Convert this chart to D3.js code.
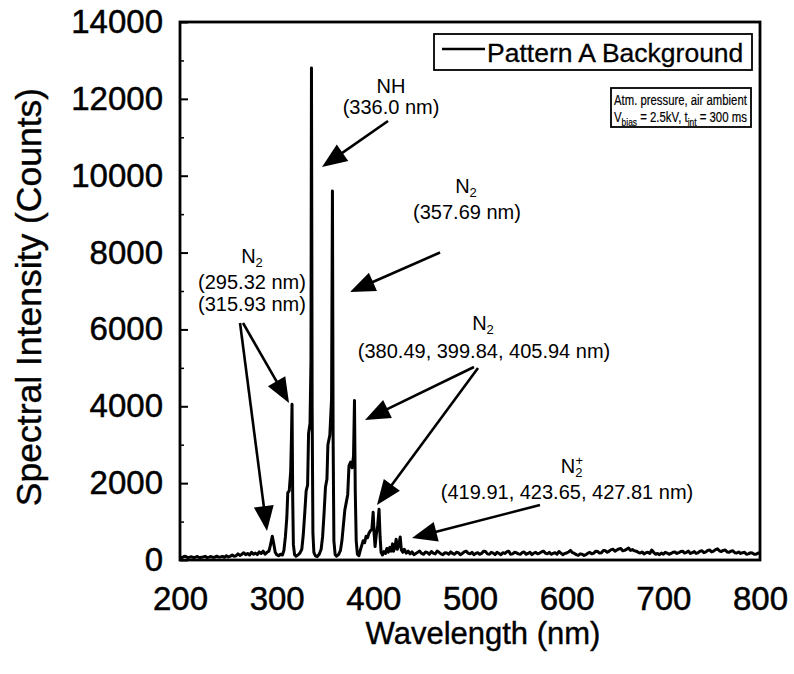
<!DOCTYPE html>
<html>
<head>
<meta charset="utf-8">
<script src="https://cdn.jsdelivr.net/npm/d3@7/dist/d3.min.js"></script>
<style>
  html, body { margin: 0; padding: 0; background: #fff; }
  svg { display: block; font-family: "Liberation Sans", Arial, Helvetica, sans-serif; }
</style>
</head>
<body>
<svg id="chart" width="794" height="674"></svg>
<script>
// ---------------- data ----------------
const xTicks = [200, 300, 400, 500, 600, 700, 800];
const yTicks = [0, 2000, 4000, 6000, 8000, 10000, 12000, 14000];
const yMinorTicks = [1000, 3000, 5000, 7000, 9000, 11000, 13000];
const seriesName = "Pattern A Background";

// spectrum: [wavelength (nm), intensity (counts)]
const spectrum = [
  [200,80],[202,60],[204,90],[206,95],[208,55],[210,75],[212,85],[214,60],[216,75],[218,90],[220,60],[222,70],[224,80],[226,95],
  [228,65],[230,75],[232,90],[234,70],[236,70],[238,100],[240,75],[242,80],[244,95],[246,70],[248,110],[250,80],[252,95],[254,130],
  [256,95],[258,110],[260,160],[262,120],[264,150],[266,190],[268,140],[270,170],[272,130],[274,200],[276,150],[278,180],
  [280,140],[282,210],[284,170],[286,230],[288,150],[290,200],[292,230],[293.5,380],[295.5,620],[297,420],
  [298.5,200],[300,140],[302,110],[304,150],[306,130],[307.5,250],[309,600],[310.5,1100],[311.5,1750],[313,1800],
  [314.5,2300],[315.3,3200],[315.9,4050],[316.6,1600],[317.3,400],[318.5,140],[320,100],[322,130],[324,180],[326,280],
  [327.5,650],[329,1200],[330.5,1800],[332,1950],[333,3300],[334.5,3550],[335.5,5200],[336,12800],[336.7,4000],[337.5,700],
  [338.5,200],[340,110],[342,90],[344,150],[346,280],[347.5,600],[349,1200],[350.5,1900],[352,2100],[353,3000],
  [355,3250],[356.8,4200],[357.7,9600],[358.4,3200],[359.2,500],[360.5,140],[362,100],[364,140],[366,250],[367.5,500],
  [369,900],[370.5,1300],[372,1500],[373.5,1700],[374.8,2450],[376.5,2550],[378,2400],[379.5,2700],[380.5,4150],[381.3,1800],
  [382.3,500],[383.5,150],[385,110],[386.5,250],[388,380],[389.5,500],[391,450],[392.5,620],[394,580],[395.5,700],
  [397,760],[398.5,800],[399.8,1240],[400.8,700],[401.8,350],[403,650],[404.5,900],[405.9,1320],[407,600],[408,200],
  [409.5,130],[411,220],[412.5,170],[414,300],[415.5,200],[417,330],[418.5,230],[419.9,420],[421,230],[422.5,350],
  [423.6,540],[424.8,280],[426.2,380],[427.8,600],[429,260],[430.5,200],[432,280],[434,180],[436,230],[438,160],
  [440,210],[442,140],[444,170],[446,200],[448,230],[450,170],[452,150],[454,210],[456,190],[458,150],[460,220],[462,180],
  [464,160],[466,230],[468,200],[470,160],[472,140],[474,190],[476,180],[478,150],[480,210],[482,170],[484,150],[486,200],
  [488,190],[490,140],[492,170],[494,210],[496,230],[498,180],[500,160],[502,200],[504,140],[506,170],[508,190],[510,150],
  [512,170],[514,230],[516,220],[518,160],[520,150],[522,200],[524,180],[526,140],[528,200],[530,170],[532,140],[534,190],
  [536,170],[538,210],[540,230],[542,150],[544,160],[546,200],[548,190],[550,160],[552,150],[554,190],[556,210],[558,150],
  [560,170],[562,200],[564,140],[566,180],[568,200],[570,160],[572,180],[574,210],[576,230],[578,180],[580,160],[582,200],
  [584,150],[586,170],[588,190],[590,150],[592,220],[594,180],[596,140],[598,170],[600,180],[602,210],[604,250],[606,190],
  [608,170],[610,140],[612,120],[614,160],[616,150],[618,120],[620,140],[622,180],[624,200],[626,160],[628,180],[630,230],
  [632,220],[634,180],[636,190],[638,250],[640,240],[642,200],[644,230],[646,270],[648,280],[650,230],[652,260],[654,290],
  [656,300],[658,240],[660,250],[662,280],[664,310],[666,250],[668,270],[670,240],[672,230],[674,200],[676,180],[678,210],
  [680,160],[682,190],[684,200],[686,170],[688,260],[690,200],[692,150],[694,170],[696,140],[698,180],[700,150],[702,200],
  [704,180],[706,150],[708,170],[710,200],[712,210],[714,170],[716,190],[718,220],[720,230],[722,180],[724,200],[726,230],
  [728,170],[730,190],[732,220],[734,170],[736,190],[738,230],[740,240],[742,190],[744,210],[746,250],[748,260],[750,210],
  [752,230],[754,270],[756,290],[758,240],[760,220],[762,250],[764,260],[766,210],[768,200],[770,230],[772,240],[774,190],
  [776,180],[778,210],[780,170],[782,190],[784,200],[786,150],[788,160],[790,190],[792,180],[794,150],[796,150],[798,180],[800,170]
];

// annotation arrows: tail and tip in data units [nm, counts]
const arrows = [
  { tail: [415.2, 11424], tip: [346.9, 10226] },
  { tail: [469.0, 8002],  tip: [375.9, 6974] },
  { tail: [262.1, 6167],  tip: [290.0, 755] },
  { tail: [265.2, 6167],  tip: [312.8, 4085] },
  { tail: [504.1, 5022],  tip: [391.4, 3643] },
  { tail: [508.3, 4996],  tip: [403.8, 1431] },
  { tail: [572.4, 1431],  tip: [440.0, 572] }
];

// ---------------- layout ----------------
const svg = d3.select("#chart");
const X0 = 180, X1 = 760, Y0 = 560, Y1 = 22;
const x = d3.scaleLinear().domain([200, 800]).range([X0, X1]);
const y = d3.scaleLinear().domain([0, 14000]).range([Y0, Y1]);

// spectrum line
const line = d3.line().x(d => x(d[0])).y(d => y(d[1]));
svg.append("path").datum(spectrum)
  .attr("d", line).attr("fill", "none").attr("stroke", "#000")
  .attr("stroke-width", 3).attr("stroke-linejoin", "round");

// frame
svg.append("rect")
  .attr("x", X0).attr("y", Y1).attr("width", X1 - X0).attr("height", Y0 - Y1)
  .attr("fill", "none").attr("stroke", "#000").attr("stroke-width", 2.8);

// y axis
const yAxis = svg.append("g").attr("transform", `translate(${X0},0)`)
  .call(d3.axisLeft(y).tickValues(yTicks).tickSizeInner(-8).tickSizeOuter(0).tickPadding(17).tickFormat(d3.format("d")));
yAxis.select(".domain").remove();
yAxis.selectAll("line").attr("stroke", "#000").attr("stroke-width", 2);
yAxis.selectAll("text").attr("font-size", 33).attr("fill", "#000")
  .attr("stroke", "#000").attr("stroke-width", 0.5)
  .attr("font-family", "'Liberation Sans', Arial, sans-serif");

const yMinor = svg.append("g").attr("transform", `translate(${X0},0)`)
  .call(d3.axisLeft(y).tickValues(yMinorTicks).tickSizeInner(-4).tickSizeOuter(0).tickFormat(""));
yMinor.select(".domain").remove();
yMinor.selectAll("line").attr("stroke", "#000").attr("stroke-width", 1.5);

// x axis
const xAxis = svg.append("g").attr("transform", `translate(0,${Y0})`)
  .call(d3.axisBottom(x).tickValues(xTicks).tickSizeInner(0).tickSizeOuter(0).tickPadding(27).tickFormat(d3.format("d")));
xAxis.select(".domain").remove();
xAxis.selectAll("text").attr("font-size", 33).attr("fill", "#000")
  .attr("stroke", "#000").attr("stroke-width", 0.5)
  .attr("font-family", "'Liberation Sans', Arial, sans-serif");

// axis titles
svg.append("text").attr("x", 483).attr("y", 644).attr("text-anchor", "middle")
  .attr("font-size", 31).attr("stroke", "#000").attr("stroke-width", 0.4).text("Wavelength (nm)");
svg.append("text").attr("transform", "translate(41,297) rotate(-90)").attr("text-anchor", "middle")
  .attr("font-size", 35.5).attr("stroke", "#000").attr("stroke-width", 0.4).text("Spectral Intensity (Counts)");

// legend
svg.append("rect").attr("x", 434).attr("y", 34).attr("width", 318).attr("height", 36)
  .attr("fill", "#fff").attr("stroke", "#000").attr("stroke-width", 1.8);
svg.append("line").attr("x1", 442).attr("x2", 485).attr("y1", 49).attr("y2", 49)
  .attr("stroke", "#000").attr("stroke-width", 2.4);
svg.append("text").attr("x", 487).attr("y", 62).attr("font-size", 26.5)
  .attr("stroke", "#000").attr("stroke-width", 0.3).text(seriesName);

// info box
svg.append("rect").attr("x", 611).attr("y", 88).attr("width", 140).attr("height", 39)
  .attr("fill", "#fff").attr("stroke", "#000").attr("stroke-width", 1.8);
const infoG1 = svg.append("g");
const info1 = infoG1.append("text").attr("x", 0).attr("y", 105).attr("font-size", 15)
  .attr("stroke", "#000").attr("stroke-width", 0.2).text("Atm. pressure, air ambient");
const infoG2 = svg.append("g");
const info2 = infoG2.append("text").attr("x", 0).attr("y", 122).attr("font-size", 15)
  .attr("stroke", "#000").attr("stroke-width", 0.2);
info2.append("tspan").text("V");
info2.append("tspan").attr("dy", 4).attr("font-size", 11).text("bias");
info2.append("tspan").attr("dy", -4).text(" = 2.5kV, t");
info2.append("tspan").attr("dy", 4).attr("font-size", 11).text("int");
info2.append("tspan").attr("dy", -4).text(" = 300 ms");
// condense horizontally to fit the box, like the reference's narrow type
[[infoG1, info1], [infoG2, info2]].forEach(([g, t]) => {
  const w = t.node().getComputedTextLength();
  const k = Math.min(1, 133 / w);
  g.attr("transform", `translate(614,0) scale(${k},1)`);
});

// arrows
const headLen = 25, headHalf = 10;
arrows.forEach(a => {
  const tx = x(a.tail[0]), ty = y(a.tail[1]);
  const px = x(a.tip[0]), py = y(a.tip[1]);
  const dx = px - tx, dy = py - ty, L = Math.hypot(dx, dy);
  const ux = dx / L, uy = dy / L;
  const bx = px - ux * headLen, by = py - uy * headLen;
  svg.append("line").attr("x1", tx).attr("y1", ty).attr("x2", bx + ux * 2).attr("y2", by + uy * 2)
    .attr("stroke", "#000").attr("stroke-width", 2.6);
  svg.append("path")
    .attr("d", `M${px},${py}L${bx - uy * headHalf},${by + ux * headHalf}L${bx + uy * headHalf},${by - ux * headHalf}Z`)
    .attr("fill", "#000");
});

// annotation labels
const fs = 20;
function label(cx, by, parts) {
  const t = svg.append("text").attr("x", cx).attr("y", by).attr("text-anchor", "middle").attr("font-size", fs);
  parts.forEach(p => {
    const s = t.append("tspan").text(p.t);
    if (p.sub) s.attr("font-size", 13).attr("dy", 4);
    if (p.supAfterSub) s.attr("font-size", 13).attr("dy", -12).attr("dx", -7);
  });
  return t;
}
label(391, 93, [{ t: "NH" }]);
label(391, 114, [{ t: "(336.0 nm)" }]);
label(466, 193, [{ t: "N" }, { t: "2", sub: true }]);
label(467, 219, [{ t: "(357.69 nm)" }]);
label(252, 263, [{ t: "N" }, { t: "2", sub: true }]);
label(252, 289, [{ t: "(295.32 nm)" }]);
label(252, 311, [{ t: "(315.93 nm)" }]);
label(483, 330, [{ t: "N" }, { t: "2", sub: true }]);
label(484, 358, [{ t: "(380.49, 399.84, 405.94 nm)" }]);
label(572, 473, [{ t: "N" }, { t: "2", sub: true }, { t: "+", supAfterSub: true }]);
label(567, 499, [{ t: "(419.91, 423.65, 427.81 nm)" }]);
</script>
</body>
</html>
